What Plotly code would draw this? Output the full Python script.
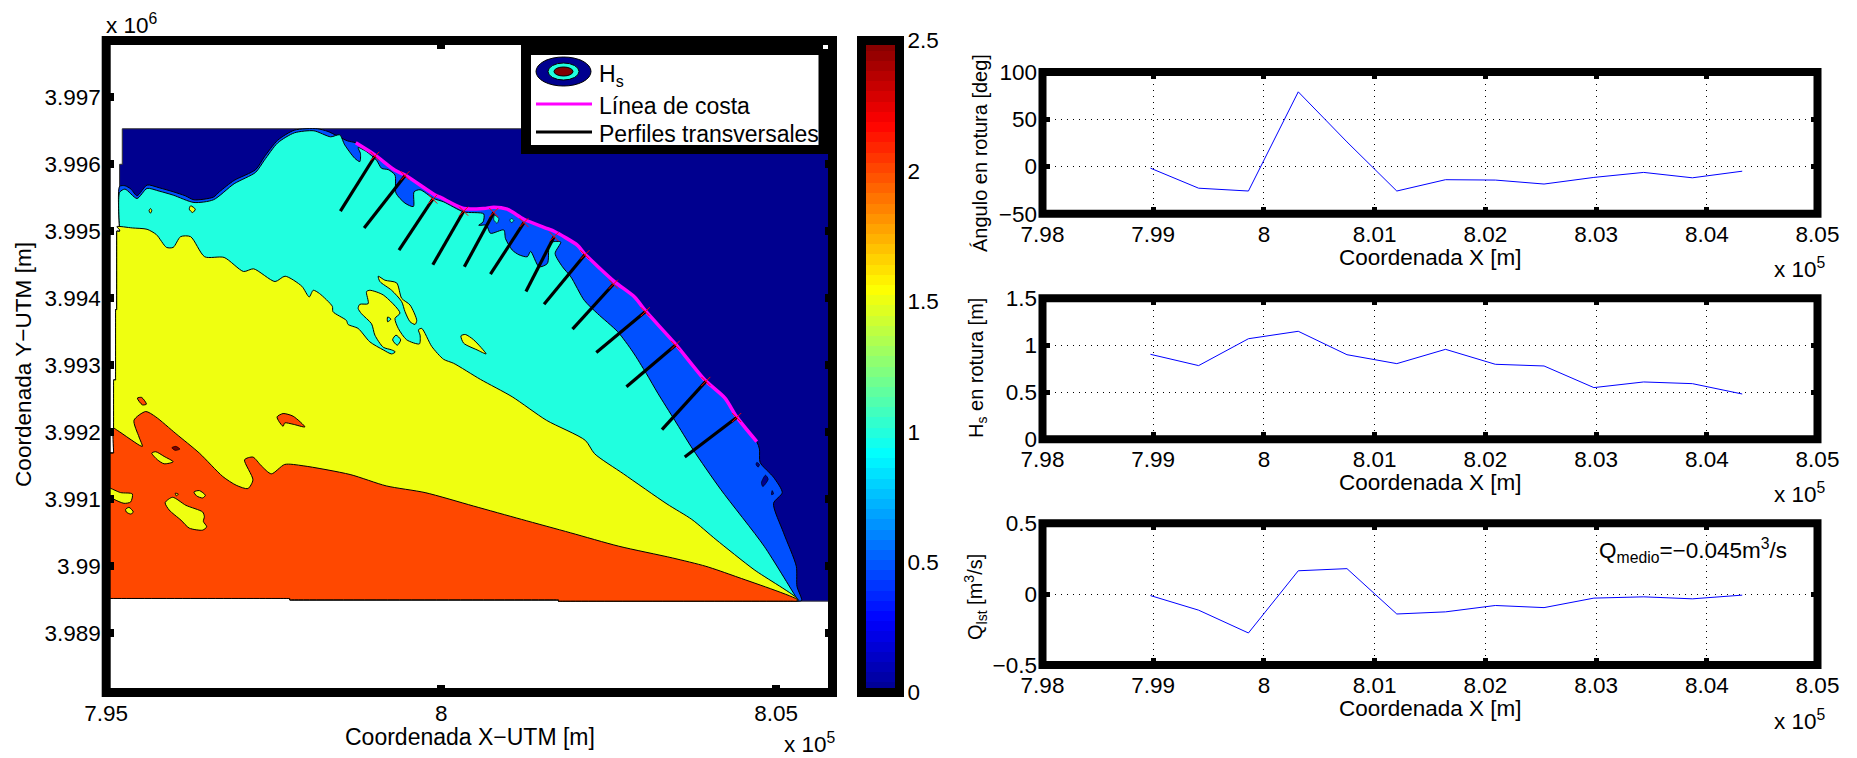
import numpy as np
import plotly.graph_objects as go

W, H = 1857, 758

# ---------- colours ----------
COL_DARK = "#00008f"
COL_BLUE = "#0050ff"
COL_CYAN = "#20ffdf"
COL_YELL = "#efff10"
COL_ORAN = "#ff4800"
COL_DRED = "#800000"

# ---------- map outlines: (easting km, northing km) ----------
EDGE_BOTTOM = [(805.36, 3989.48), (805.30, 3989.48), (805.24, 3989.48), (801.76, 3989.48), (801.75, 3989.48),
               (801.75, 3989.50), (801.74, 3989.50),
               (797.75, 3989.50), (797.74, 3989.50), (797.74, 3989.52), (797.73, 3989.52),
               (795.02, 3989.52), (795.0, 3989.52), (795.0, 3989.54)]
EDGE_LEFT = [(795.0, 3991.68), (795.0, 3991.69), (795.11, 3991.69), (795.11, 3991.71), (795.11, 3992.76),
             (795.11, 3992.78), (795.14, 3992.78), (795.14, 3992.80), (795.14, 3993.81), (795.14, 3993.83),
             (795.157, 3993.83), (795.157, 3993.85), (795.157, 3994.98), (795.157, 3995.0), (795.2, 3995.0),
             (795.2, 3995.02), (795.2, 3995.98), (795.2, 3996.0), (795.24, 3996.0), (795.24, 3996.53)]
DOMAIN_TOP = [(806.2, 3996.53), (806.2, 3989.48)]

COAST = [(798.725, 3996.32), (799.01, 3996.14), (799.31, 3995.91), (799.46, 3995.84),
         (799.91, 3995.54), (799.985, 3995.51), (800.335, 3995.34), (800.635, 3995.34),
         (800.785, 3995.36), (800.985, 3995.33), (801.235, 3995.18), (801.585, 3995.04),
         (801.685, 3995.0), (802.035, 3994.79), (802.135, 3994.67), (802.585, 3994.25),
         (802.885, 3994.02), (803.06, 3993.80), (803.485, 3993.33), (803.935, 3992.78),
         (804.235, 3992.51), (804.41, 3992.23), (804.71, 3991.86)]

BLUE_RIBBON = [(795.2, 3995.67), (795.28, 3995.68), (795.37, 3995.63), (795.46, 3995.53),
               (795.61, 3995.69), (795.79, 3995.65), (796.0, 3995.59), (796.18, 3995.53),
               (796.31, 3995.47), (796.6, 3995.51), (796.69, 3995.59), (796.91, 3995.76),
               (797.23, 3995.92), (797.36, 3996.11), (797.56, 3996.36), (797.81, 3996.51),
               (798.15, 3996.53), (798.31, 3996.49), (798.6, 3996.35)]
BLUE_SOUTH = [(804.75, 3991.75), (804.76, 3991.55), (804.96, 3991.33), (805.09, 3991.1),
              (804.96, 3990.94), (805.11, 3990.5), (805.30, 3990.0), (805.31, 3989.7),
              (805.38, 3989.49)]
DARK_HOLES = [
    [(804.71, 3991.55), (804.75, 3991.52), (804.73, 3991.48), (804.70, 3991.52)],
    [(804.84, 3991.36), (804.88, 3991.30), (804.80, 3991.19), (804.78, 3991.25)],
    [(804.94, 3991.13), (804.96, 3991.08), (804.93, 3991.07)],
]
CYAN_EDGE = [(795.2, 3995.58), (795.28, 3995.63), (795.46, 3995.49), (795.61, 3995.64),
             (795.79, 3995.60), (796.0, 3995.54), (796.31, 3995.43), (796.6, 3995.47),
             (796.91, 3995.71), (797.23, 3995.88), (797.36, 3996.06), (797.56, 3996.32),
             (797.81, 3996.47), (798.1, 3996.50), (798.35, 3996.41), (798.485, 3996.44),
             (798.56, 3996.29), (798.71, 3996.09), (798.785, 3996.04), (798.795, 3996.16),
             (798.76, 3996.25), (798.885, 3996.19), (799.035, 3996.06), (799.11, 3995.94),
             (799.21, 3995.92), (799.31, 3995.84), (799.325, 3995.57), (799.46, 3995.42),
             (799.585, 3995.37), (799.595, 3995.59), (799.685, 3995.62), (799.885, 3995.49),
             (800.035, 3995.44), (800.335, 3995.29), (800.635, 3995.26), (800.625, 3995.14),
             (800.56, 3995.09), (800.675, 3995.09), (800.735, 3994.97), (800.935, 3995.02),
             (800.96, 3994.89), (801.06, 3994.72), (801.16, 3994.65), (801.285, 3994.62),
             (801.335, 3994.70), (801.46, 3994.47), (801.585, 3994.52), (801.61, 3994.77),
             (801.66, 3994.84), (801.785, 3994.84), (801.70, 3994.67), (801.81, 3994.47),
             (801.935, 3994.32), (802.135, 3993.97), (802.335, 3993.77), (802.635, 3993.50),
             (802.86, 3993.20), (803.06, 3992.88), (803.235, 3992.58), (803.485, 3992.18),
             (803.76, 3991.74), (804.17, 3991.15), (804.82, 3990.3), (805.29, 3989.55),
             (805.33, 3989.49)]
CYAN_BLOBS = [
    [(800.795, 3995.24), (800.86, 3995.19), (800.835, 3995.12), (800.785, 3995.17)],
    [(801.05, 3995.19), (801.085, 3995.16), (801.045, 3995.13), (801.025, 3995.17)],
]
YELLOW_EDGE = [(795.16, 3995.07), (795.39, 3995.05), (795.61, 3995.03), (795.75, 3994.95),
               (795.9, 3994.76), (796.0, 3994.76), (796.11, 3994.92), (796.26, 3994.92),
               (796.47, 3994.62), (796.76, 3994.61), (797.05, 3994.40), (797.2, 3994.44),
               (797.52, 3994.25), (797.67, 3994.33), (797.92, 3994.18), (798.03, 3994.02),
               (798.09, 3994.12), (798.185, 3994.07), (798.375, 3993.88), (798.385, 3993.80),
               (798.585, 3993.67), (798.61, 3993.61), (798.76, 3993.55), (798.935, 3993.35),
               (799.135, 3993.23), (799.26, 3993.17), (799.315, 3993.20), (799.26, 3993.23),
               (799.135, 3993.27), (799.01, 3993.45), (798.96, 3993.62), (798.81, 3993.77),
               (798.76, 3993.85), (798.785, 3993.91), (798.91, 3993.92), (798.885, 3994.10),
               (798.935, 3994.12), (799.135, 3994.05), (799.385, 3993.78), (799.31, 3993.70),
               (799.36, 3993.55), (799.485, 3993.38), (799.675, 3993.32), (799.685, 3993.45),
               (799.66, 3993.53), (799.71, 3993.55), (799.86, 3993.28), (800.035, 3993.09),
               (800.185, 3993.03), (800.585, 3992.79), (801.06, 3992.53), (801.57, 3992.18),
               (802.15, 3991.88), (802.29, 3991.68), (802.72, 3991.38), (803.37, 3990.93),
               (803.74, 3990.7), (804.1, 3990.4), (804.67, 3989.95), (805.32, 3989.51)]
YELLOW_ISLES = [
    [(799.06, 3994.33), (799.16, 3994.27), (799.335, 3994.23), (799.41, 3994.0),
     (799.535, 3993.90), (799.635, 3993.67), (799.61, 3993.61), (799.535, 3993.65),
     (799.46, 3993.80), (799.41, 3993.95), (799.26, 3994.12), (799.085, 3994.25)],
    [(800.295, 3993.44), (800.36, 3993.46), (800.485, 3993.38), (800.67, 3993.17),
     (800.535, 3993.23), (800.335, 3993.33)],
    [(796.26, 3995.38), (796.33, 3995.33), (796.29, 3995.28), (796.24, 3995.33)],
    [(795.66, 3995.34), (795.68, 3995.31), (795.66, 3995.27), (795.64, 3995.31)],
]
CYAN_IN_YELLOW = [
    [(799.325, 3993.45), (799.395, 3993.38), (799.345, 3993.30), (799.275, 3993.38)],
    [(799.2, 3993.72), (799.25, 3993.69), (799.2, 3993.65)],
]
ORANGE_EDGE = [(795.11, 3992.06), (795.165, 3992.03), (795.34, 3991.91), (795.49, 3991.81),
               (795.54, 3991.79), (795.49, 3991.93), (795.415, 3992.18), (795.59, 3992.31),
               (795.74, 3992.23), (796.04, 3991.98), (796.39, 3991.69), (796.74, 3991.34),
               (796.94, 3991.21), (797.115, 3991.16), (797.19, 3991.29), (797.065, 3991.59),
               (797.19, 3991.63), (797.315, 3991.50), (797.465, 3991.38), (797.665, 3991.52),
               (797.94, 3991.50), (798.64, 3991.37), (799.18, 3991.2), (799.76, 3991.1),
               (800.48, 3990.9), (801.2, 3990.7), (801.93, 3990.5), (802.65, 3990.3),
               (803.45, 3990.125), (803.95, 3990.0), (804.39, 3989.85), (805.32, 3989.5)]
ORANGE_ISLES = [
    [(795.465, 3992.51), (795.53, 3992.52), (795.6, 3992.42), (795.54, 3992.41)],
    [(797.55, 3992.23), (797.64, 3992.28), (797.79, 3992.24), (797.965, 3992.08),
     (797.79, 3992.12), (797.665, 3992.14), (797.64, 3992.09), (797.58, 3992.16)],
]
YELLOW_IN_ORANGE = [
    [(795.68, 3991.69), (795.74, 3991.71), (795.865, 3991.64), (796.0, 3991.56),
     (795.865, 3991.53), (795.765, 3991.59)],
    [(795.0, 3991.18), (795.215, 3991.10), (795.39, 3991.08), (795.365, 3990.96),
     (795.265, 3990.94), (795.115, 3991.0), (795.0, 3991.06)],
    [(795.29, 3990.85), (795.34, 3990.88), (795.405, 3990.81), (795.365, 3990.78), (795.3, 3990.81)],
    [(796.31, 3991.11), (796.39, 3991.13), (796.48, 3991.06), (796.44, 3991.02), (796.35, 3991.05)],
    [(795.88, 3990.95), (795.99, 3991.03), (796.19, 3990.91), (796.44, 3990.81), (796.465, 3990.74),
     (796.45, 3990.67), (796.5, 3990.59), (796.44, 3990.54), (796.24, 3990.57), (796.115, 3990.69),
     (795.94, 3990.84)],
    [(796.03, 3991.09), (796.075, 3991.08), (796.05, 3991.05)],
]
DARK_RED_ISLE = [(795.98, 3991.77), (796.04, 3991.79), (796.1, 3991.75), (796.03, 3991.73)]

PROFILE_HEADS = [(799.01, 3996.12), (799.46, 3995.83), (799.875, 3995.48), (800.335, 3995.30),
                 (800.785, 3995.28), (801.235, 3995.13), (801.685, 3994.92), (802.145, 3994.65),
                 (802.57, 3994.21), (803.045, 3993.80), (803.495, 3993.30), (803.95, 3992.76),
                 (804.41, 3992.22)]
PROFILE_TAILS = [(798.495, 3995.30), (798.85, 3995.05), (799.37, 3994.72), (799.875, 3994.50),
                 (800.345, 3994.47), (800.735, 3994.36), (801.265, 3994.10), (801.535, 3993.91),
                 (801.96, 3993.54), (802.315, 3993.19), (802.765, 3992.68), (803.295, 3992.04),
                 (803.635, 3991.63)]

# ---------- profile series ----------
X_PROFILE = [7.98975, 7.9941, 7.9986, 8.0031, 8.0075, 8.0120, 8.0164, 8.0209, 8.0253, 8.0298, 8.0343, 8.0387, 8.0432]
ANGLE = [-1.8, -23, -26, 79, 26, -26, -14, -14.4, -18.6, -11.6, -6.3, -12, -5]
HS = [0.904, 0.784, 1.07, 1.149, 0.90, 0.805, 0.957, 0.798, 0.78, 0.55, 0.61, 0.592, 0.482]
QLST = [-0.01, -0.113, -0.274, 0.165, 0.18, -0.14, -0.125, -0.08, -0.095, -0.028, -0.019, -0.033, -0.007]

X_TICKS = [7.98, 7.99, 8, 8.01, 8.02, 8.03, 8.04, 8.05]
X_TICK_TEXT = ["7.98", "7.99", "8", "8.01", "8.02", "8.03", "8.04", "8.05"]
MAP_X_TICKS = [7.95, 8, 8.05]
MAP_X_TEXT = ["7.95", "8", "8.05"]
MAP_Y_TICKS = [3.989, 3.99, 3.991, 3.992, 3.993, 3.994, 3.995, 3.996, 3.997]
MAP_Y_TEXT = ["3.989", "3.99", "3.991", "3.992", "3.993", "3.994", "3.995", "3.996", "3.997"]
BAR_TICKS = [0, 0.5, 1, 1.5, 2, 2.5]
BAR_TEXT = ["0", "0.5", "1", "1.5", "2", "2.5"]

FONT = "Liberation Sans, Arial, sans-serif"
FS = 22.5


def px(fx):
    return fx / W


def py(fy):
    return 1 - fy / H


def left_upto(y):
    return [p for p in EDGE_LEFT if p[1] < y]


fig = go.Figure()


def poly(points, color, lw=1.0, linecolor="black", shape="spline"):
    pts = list(points) + [points[0]]
    fig.add_trace(go.Scatter(
        x=[p[0] / 100 for p in pts], y=[p[1] / 1000 for p in pts],
        mode="lines", fill="toself", fillcolor=color,
        line=dict(color=linecolor, width=lw, shape=shape, smoothing=0.7), showlegend=False, hoverinfo="skip",
        xaxis="x", yaxis="y"))


poly(EDGE_BOTTOM + EDGE_LEFT + DOMAIN_TOP, COL_DARK, lw=1, linecolor="#333333", shape="linear")
poly(BLUE_RIBBON + COAST + BLUE_SOUTH + EDGE_BOTTOM[1:] + left_upto(3995.67), COL_BLUE)
for h in DARK_HOLES:
    poly(h, COL_DARK, lw=0.7)
poly(CYAN_EDGE + EDGE_BOTTOM[1:] + left_upto(3995.58), COL_CYAN)
for h in CYAN_BLOBS:
    poly(h, COL_CYAN, lw=0.7)
poly(YELLOW_EDGE + EDGE_BOTTOM[1:] + left_upto(3995.07), COL_YELL)
for h in YELLOW_ISLES:
    poly(h, COL_YELL)
for h in CYAN_IN_YELLOW:
    poly(h, COL_CYAN)
poly(ORANGE_EDGE + EDGE_BOTTOM[1:] + left_upto(3992.06), COL_ORAN)
for h in ORANGE_ISLES:
    poly(h, COL_ORAN)
for h in YELLOW_IN_ORANGE:
    poly(h, COL_YELL)
poly(DARK_RED_ISLE, COL_DRED, lw=0.7)

# coast, profiles, crosses
fig.add_trace(go.Scatter(
    x=[p[0] / 100 for p in COAST], y=[p[1] / 1000 for p in COAST], mode="lines",
    line=dict(color="#ff00ff", width=3.5, shape="spline", smoothing=0.7), showlegend=False, hoverinfo="skip", xaxis="x", yaxis="y"))
prof_x, prof_y = [], []
for a, b in zip(PROFILE_HEADS, PROFILE_TAILS):
    prof_x += [a[0] / 100, b[0] / 100, None]
    prof_y += [a[1] / 1000, b[1] / 1000, None]
fig.add_trace(go.Scatter(x=prof_x, y=prof_y, mode="lines", line=dict(color="black", width=3.2),
                         showlegend=False, hoverinfo="skip", xaxis="x", yaxis="y"))
fig.add_trace(go.Scatter(
    x=[p[0] / 100 for p in PROFILE_HEADS], y=[p[1] / 1000 for p in PROFILE_HEADS], mode="markers",
    marker=dict(symbol="x-thin", size=9, line=dict(color="#ff0000", width=1)),
    showlegend=False, hoverinfo="skip", xaxis="x", yaxis="y"))

# colour bar as a heat map with its own axes
JET = [[0, "#00008f"], [0.111, "#0000ff"], [0.365, "#00ffff"], [0.619, "#ffff00"],
       [0.873, "#ff0000"], [1, "#800000"]]
BAR_LEVELS = np.linspace(0, 2.5, 65)
fig.add_trace(go.Heatmap(
    z=[[v] for v in (BAR_LEVELS[:-1] + BAR_LEVELS[1:]) / 2], x=[0],
    y=(BAR_LEVELS[:-1] + BAR_LEVELS[1:]) / 2, colorscale=JET, zmin=0, zmax=2.5,
    showscale=False, hoverinfo="skip", xaxis="x2", yaxis="y2"))

# profile panels
for i, series in enumerate([ANGLE, HS, QLST]):
    fig.add_trace(go.Scatter(x=X_PROFILE, y=series, mode="lines", line=dict(color="#0000ff", width=1),
                             showlegend=False, hoverinfo="skip", xaxis=f"x{i + 3}", yaxis=f"y{i + 3}"))

tick_font = dict(family=FONT, size=FS, color="black")
common = dict(showline=True, linecolor="black", linewidth=1, mirror="ticks", ticks="inside", tickcolor="black",
              zeroline=False, tickfont=tick_font, automargin=False)
map_x0, map_x1 = 106.2, 832.5
map_y0, map_y1 = 40.5, 692.5
bar_x0, bar_x1 = 861.5, 899.5
KM = 67.0
xr = [7.95, 7.95 + (map_x1 - map_x0) / KM / 100]
yr = [3.997 - (map_y1 - 97.3) / KM / 1000, 3.997 + (97.3 - map_y0) / KM / 1000]

layout = dict(
    template="none",
    width=W, height=H, margin=dict(l=0, r=0, t=0, b=0, autoexpand=False), paper_bgcolor="white", plot_bgcolor="white",
    font=dict(family=FONT, color="black"), showlegend=False,
    xaxis=dict(domain=[px(map_x0), px(map_x1)], range=xr, tickvals=MAP_X_TICKS, ticktext=MAP_X_TEXT,
               tickwidth=8, ticklen=8, showgrid=False, anchor="y", ticklabelstandoff=0, **common),
    yaxis=dict(domain=[py(map_y1), py(map_y0)], range=yr, tickvals=MAP_Y_TICKS, ticktext=MAP_Y_TEXT,
               tickwidth=8, ticklen=8, showgrid=False, anchor="x", ticklabelstandoff=0, **common),
    xaxis2=dict(domain=[px(bar_x0), px(bar_x1)], range=[-0.5, 0.5], showticklabels=False, ticks="",
                showline=False, zeroline=False, showgrid=False, anchor="y2", automargin=False),
    yaxis2=dict(domain=[py(map_y1), py(map_y0)], range=[0, 2.5], tickvals=BAR_TICKS, ticktext=BAR_TEXT,
                side="right", showline=False, ticks="", zeroline=False, showgrid=False, tickfont=tick_font,
                anchor="x2", automargin=False, ticklabelstandoff=7),
)

panel_x0, panel_x1 = 1042.5, 1817.5
PANELS = [
    (72, 213.7, [-50, 100], [-50, 0, 50, 100], ["\u221250", "0", "50", "100"]),
    (298.3, 439.3, [0, 1.5], [0, 0.5, 1, 1.5], ["0", "0.5", "1", "1.5"]),
    (523.3, 665, [-0.5, 0.5], [-0.5, 0, 0.5], ["\u22120.5", "0", "0.5"]),
]
for i, (t, b, rng, tv, tt) in enumerate(PANELS):
    n = i + 3
    layout[f"xaxis{n}"] = dict(domain=[px(panel_x0), px(panel_x1)], range=[7.98, 8.05], tickvals=X_TICKS,
                               ticktext=X_TICK_TEXT, tickwidth=5, ticklen=7,
                               showgrid=True, gridcolor="black", griddash="1px,5px", gridwidth=1,
                               anchor=f"y{n}", ticklabelstandoff=0, **common)
    layout[f"yaxis{n}"] = dict(domain=[py(b), py(t)], range=rng, tickvals=tv, ticktext=tt,
                               tickwidth=5, ticklen=7,
                               showgrid=True, gridcolor="black", griddash="1px,5px", gridwidth=1,
                               anchor=f"x{n}", ticklabelstandoff=0, **common)
fig.update_layout(**layout)

# ---------- axes frames and legend furniture ----------
shapes = []


def frame(x0, y0, x1, y1, lw):
    shapes.append(dict(type="rect", xref="paper", yref="paper", x0=px(x0), x1=px(x1), y0=py(y1), y1=py(y0),
                       fillcolor="rgba(0,0,0,0)", line=dict(color="black", width=lw), layer="above"))


def rect(x0, y0, x1, y1, fill, line=None, kind="rect"):
    shapes.append(dict(type=kind, xref="paper", yref="paper", x0=px(x0), x1=px(x1), y0=py(y1), y1=py(y0),
                       fillcolor=fill, line=dict(color=line or fill, width=1 if line else 0), layer="above"))


frame(map_x0, map_y0, map_x1, map_y1, 9)
frame(bar_x0, map_y0, bar_x1, map_y1, 9)
for t, b, *_ in PANELS:
    frame(panel_x0, t, panel_x1, b, 8)
rect(521, 45, 823, 154, "black")
rect(823, 49, 828.5, 154, "black")
rect(531, 55, 818.5, 145, "white")
rect(536, 57, 591, 86, COL_DARK, "black", "circle")
rect(548, 63, 579, 80, COL_CYAN, "black", "circle")
rect(554, 67, 573, 76, COL_DRED, "black", "circle")
for fy, col in [(104, "#ff00ff"), (132, "black")]:
    shapes.append(dict(type="line", xref="paper", yref="paper", x0=px(536), x1=px(592), y0=py(fy), y1=py(fy),
                       line=dict(color=col, width=3), layer="above"))
fig.update_layout(shapes=shapes)


def text(fx, fy, s, size=FS, xanchor="center", angle=0):
    fig.add_annotation(xref="paper", yref="paper", x=px(fx), y=py(fy), text=s, showarrow=False,
                       xanchor=xanchor, yanchor="middle", textangle=angle,
                       font=dict(family=FONT, size=size, color="black"))


text(597, 76, "H<sub>s</sub>", xanchor="left", size=23)
text(597, 106, "L\u00ednea de costa", xanchor="left", size=23)
text(597, 134, "Perfiles transversales", xanchor="left", size=23)
text(104, 24, "x 10<sup>6</sup>", xanchor="left")
text(782, 743, "x 10<sup>5</sup>", xanchor="left")
text(470, 737, "Coordenada X\u2212UTM [m]", size=23)
text(23, 365, "Coordenada Y\u2212UTM [m]", size=22.6, angle=-90)
for fy_title, fy_exp, fy_ylab, fx_ylab, label in [
    (257, 268, 153, 980, "\u00c1ngulo en rotura [deg]"),
    (482, 493, 368, 978, "H<sub>s</sub> en rotura [m]"),
    (708, 720, 597, 975, "Q<sub>lst</sub> [m<sup>3</sup>/s]"),
]:
    text(1430, fy_title, "Coordenada X [m]")
    text(1772, fy_exp, "x 10<sup>5</sup>", xanchor="left")
    text(fx_ylab, fy_ylab, label, size=20, angle=-90)
text(1597, 550, "Q<sub>medio</sub>=\u22120.045m<sup>3</sup>/s", xanchor="left")

fig.write_html("out.html", config=dict(displayModeBar=False),
               post_script="document.body.style.margin='0';document.body.style.overflow='hidden';")
